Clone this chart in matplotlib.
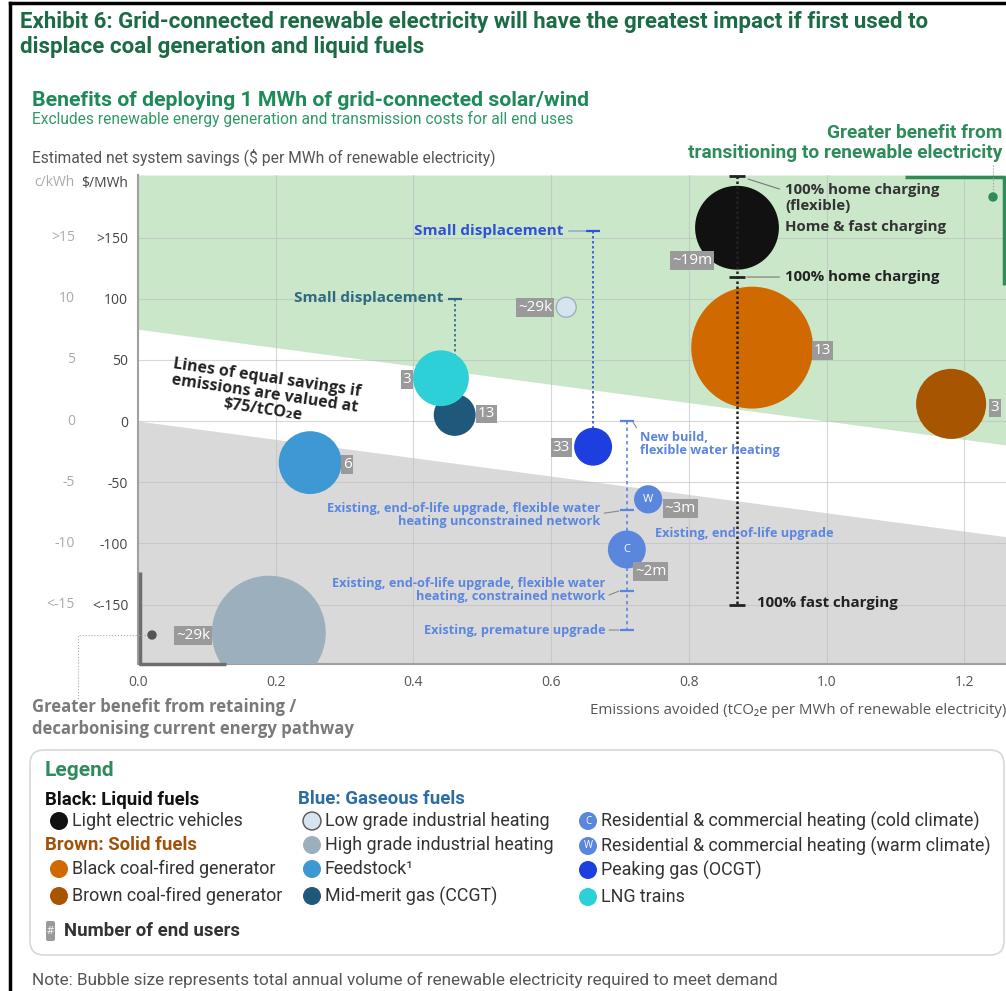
import matplotlib
matplotlib.use("Agg")
import matplotlib.pyplot as plt
from matplotlib.patches import Circle, FancyBboxPatch
import numpy as np

# ---- data ----
end_uses = ["Light electric vehicles", "Black coal-fired generator", "Brown coal-fired generator",
            "Low grade industrial heating", "High grade industrial heating", "Feedstock",
            "Mid-merit gas (CCGT)", "LNG trains", "Peaking gas (OCGT)",
            "Residential & commercial heating (warm climate)",
            "Residential & commercial heating (cold climate)"]
emissions = [0.870, 0.892, 1.181, 0.622, 0.190, 0.250, 0.460, 0.440, 0.661, 0.741, 0.710]  # tCO2e/MWh
savings = [158, 60, 14, 93, -173, -34, 5, 35, -21, -64, -105]                             # $/MWh
volume = [176, 372, 123, 10, 325, 99, 44, 78, 36, 20, 36]                                 # relative volume
end_users = ["~19m", "13", "3", "~29k", "~29k", "6", "13", "3", "33", "~3m", "~2m"]
letters = ["", "", "", "", "", "", "", "", "", "W", "C"]

carbon_price = 75  # $/tCO2e
upper_band = 75    # $/MWh at zero emissions

ev_x = 0.87
ev_range = [200, 118, -150]
ev_range_labels = ["100% home charging\n(flexible)", "100% home charging", "100% fast charging"]
ccgt_range = [100, 5]
ocgt_range = [155, -21]
hp_x = 0.71
hp_range = [0, -73, -139, -171]

yticks = [-150, -100, -50, 0, 50, 100, 150]
ytick_mwh = ["<-150", "-100", "-50", "0", "50", "100", ">150"]
ytick_kwh = ["<-15", "-10", "-5", "0", "5", "10", ">15"]
xticks = [0.0, 0.2, 0.4, 0.6, 0.8, 1.0, 1.2]

# ---- styles ----
colors = ["#111111", "#D06A00", "#A85500", "#D6E4F0", "#9BAFBD", "#3E98D3",
          "#1F587A", "#2DD0D6", "#1E3FE0", "#5A86DE", "#5A86DE"]
edges = ["none", "none", "none", "#9FB0BC", "none", "none", "none", "none", "none", "none", "none"]
label_off = [(-45, 33), (70, 3), (44, 4), (-31, 0), (-76, 3), (37, 2), (32, -1),
             (-34, 1), (-32, 1), (32, 9), (24, 22)]

COND = ["Roboto", "DejaVu Sans"]
SANS = ["Open Sans", "DejaVu Sans"]

W, H = 1006, 991
fig = plt.figure(figsize=(W / 100, H / 100), dpi=100)
fig.patch.set_facecolor("white")

# main axes, pixel box 138..1006 x 175..664
ax = fig.add_axes([138 / W, 1 - 664 / H, (W - 138) / W, (664 - 175) / H])
xmax = 868 / 688.5
ax.set_xlim(0, xmax)
ax.set_ylim(-198.6, 201.1)

xs = np.array([0, xmax])
ax.fill_between(xs, upper_band - carbon_price * xs, 201.1, color="#CAE7CA", lw=0, zorder=0)
ax.fill_between(xs, -198.6, -carbon_price * xs, color="#D9D9D9", lw=0, zorder=0)

for v in xticks[1:]:
    ax.axvline(v, color="#BDBDBD", lw=0.8, alpha=0.6, zorder=0.5)
for v in yticks:
    ax.axhline(v, color="#BDBDBD", lw=0.8, alpha=0.6, zorder=0.5)

for s in ["top", "right"]:
    ax.spines[s].set_visible(False)
for s in ["left", "bottom"]:
    ax.spines[s].set_color("#A0A0A0")
    ax.spines[s].set_linewidth(1.5)

ax.set_yticks(yticks)
ax.set_yticklabels(ytick_mwh, color="#444444", fontsize=10, family=SANS)
ax.set_xticks(xticks)
ax.set_xticklabels(["%.1f" % v for v in xticks], color="#555555", fontsize=10, family=SANS)
ax.tick_params(length=0)
ax.tick_params(axis="y", pad=7)
ax.tick_params(axis="x", pad=8)
for v, lab in zip(yticks, ytick_kwh):
    ax.text(-0.0726, v, lab, transform=ax.get_yaxis_transform(), ha="right", va="center",
            color="#AAAAAA", fontsize=10, family=SANS)

# bubbles
sizes = [v * 20.7 for v in volume]
ax.scatter(emissions, savings, s=sizes, c=colors, edgecolors=edges, linewidths=1, zorder=3)
for x, y, lab, (dx, dy) in zip(emissions, savings, end_users, label_off):
    ax.annotate(lab, (x, y), xytext=(dx * 0.72, -dy * 0.72), textcoords="offset points",
                ha="center", va="center", color="white", fontsize=11, family=SANS,
                bbox=dict(boxstyle="square,pad=0.12", fc="#9A9A9A", ec="none"), zorder=6)
for x, y, t in zip(emissions, savings, letters):
    if t:
        ax.text(x, y, t, ha="center", va="center", color="white", fontsize=8, family=SANS, zorder=6)


def d(px, py):
    return ((px - 138) / 688.5, (421 - py) / 1.2234)


BOLD = dict(fontweight="bold", family=SANS)

# EV range
ax.plot([ev_x, ev_x], [ev_range[0], ev_range[-1]], color="#222222", lw=1.8,
        ls=(0, (1, 1)), zorder=4)
ax.plot([ev_x] * 3, ev_range, ls="none", marker="_", ms=12, mew=2, color="#222222", zorder=4)
ax.annotate(ev_range_labels[0], xy=d(748, 179), xytext=d(785, 198), ha="left", va="center",
            fontsize=10.8, color="#333333", linespacing=1.1,
            arrowprops=dict(arrowstyle="-", color="#777777", lw=0.8, relpos=(0, 0.75),
                            shrinkA=2, shrinkB=0), zorder=6, **BOLD)
ax.text(*d(785, 227), "Home & fast charging", ha="left", va="center", fontsize=10.8,
        color="#333333", zorder=6, **BOLD)
ax.annotate(ev_range_labels[1], xy=d(747, 277), xytext=d(785, 277), ha="left", va="center",
            fontsize=10.8, color="#222222",
            arrowprops=dict(arrowstyle="-", color="#777777", lw=0.8, shrinkA=2, shrinkB=0),
            zorder=6, **BOLD)
ax.text(*d(757, 603), ev_range_labels[2], ha="left", va="center", fontsize=10.8,
        color="#222222", zorder=6, **BOLD)

# CCGT small displacement
x_c = emissions[6]
ax.plot([x_c, x_c], ccgt_range, color="#2D6A7F", lw=1.2, ls=(0, (1.5, 1.5)), zorder=2)
ax.plot([x_c], [ccgt_range[0]], marker="_", ms=10, mew=1.6, color="#2D6A7F", zorder=4)
ax.text(*d(443, 298), "Small displacement", ha="right", va="center", fontsize=11,
        color="#2D6A7F", zorder=6, **BOLD)

# OCGT small displacement
x_o = emissions[8]
ax.plot([x_o, x_o], ocgt_range, color="#3050D8", lw=1.2, ls=(0, (1.5, 1.5)), zorder=2)
ax.plot([x_o], [ocgt_range[0]], marker="_", ms=10, mew=1.6, color="#3050D8", zorder=4)
ax.annotate("Small displacement", xy=d(586, 231), xytext=d(563, 231), ha="right", va="center",
            fontsize=11, color="#3050D8",
            arrowprops=dict(arrowstyle="-", color="#7F8FD8", lw=0.8, relpos=(1, 0.5),
                            shrinkA=2, shrinkB=0), zorder=6, **BOLD)

# heat pump range
HP = "#5B86E0"
ax.plot([hp_x, hp_x], [hp_range[0], hp_range[-1]], color=HP, lw=1.2, ls=(0, (2, 2)), zorder=4)
ax.plot([hp_x] * 4, hp_range, ls="none", marker="_", ms=10, mew=1.6, color=HP, zorder=4)
hp_kw = dict(fontsize=9.2, color=HP, linespacing=1.05, zorder=6, **BOLD)
ax.annotate("New build,\nflexible water heating", xy=d(633, 422), xytext=d(640, 444),
            ha="left", va="center",
            arrowprops=dict(arrowstyle="-", color="#888888", lw=0.8, relpos=(0, 0.9),
                            shrinkA=1, shrinkB=0), **hp_kw)
ax.annotate("Existing, end-of-life upgrade, flexible water\nheating unconstrained network",
            xy=d(619, 511), xytext=d(600, 515), ha="right", va="center",
            arrowprops=dict(arrowstyle="-", color="#888888", lw=0.8, relpos=(1, 0.55),
                            shrinkA=1, shrinkB=0), **hp_kw)
ax.text(*d(655, 533), "Existing, end-of-life upgrade", ha="left", va="center", **hp_kw)
ax.annotate("Existing, end-of-life upgrade, flexible water\nheating, constrained network",
            xy=d(619, 591), xytext=d(605, 590), ha="right", va="center",
            arrowprops=dict(arrowstyle="-", color="#888888", lw=0.8, relpos=(1, 0.25),
                            shrinkA=1, shrinkB=0), **hp_kw)
ax.annotate("Existing, premature upgrade", xy=d(619, 630), xytext=d(605, 630),
            ha="right", va="center",
            arrowprops=dict(arrowstyle="-", color="#888888", lw=0.8, relpos=(1, 0.5),
                            shrinkA=1, shrinkB=0), **hp_kw)

# iso-savings note
ax.text(*d(265, 394), "Lines of equal savings if\nemissions are valued at\n\\$75/tCO\u2082e",
        ha="center", va="center", rotation=-8.5, rotation_mode="anchor", fontsize=11.5,
        color="#222222", linespacing=1.0, zorder=6, **BOLD)

# ---- overlay in pixel coordinates ----
ov = fig.add_axes([0, 0, 1, 1], zorder=5)
ov.set_xlim(0, W)
ov.set_ylim(H, 0)
ov.axis("off")

# outer frame
ov.plot([10, W], [3, 3], color="black", lw=2.5)
ov.plot([10, 10], [3, H], color="black", lw=2.5)

ov.text(20, 22, "Exhibit 6: Grid-connected renewable electricity will have the greatest impact if first used to",
        fontsize=16, fontweight="bold", family=COND, color="#1B6B45", va="center")
ov.text(20, 47, "displace coal generation and liquid fuels", fontsize=16, fontweight="bold",
        family=COND, color="#1B6B45", va="center")
ov.text(32, 101, "Benefits of deploying 1 MWh of grid-connected solar/wind", fontsize=15.3,
        fontweight="bold", family=COND, color="#1E8A58", va="center")
ov.text(32, 119, "Excludes renewable energy generation and transmission costs for all end uses",
        fontsize=11.2, family=COND, color="#2E9A66", va="center")
ov.text(1002, 133, "Greater benefit from", fontsize=13.8, fontweight="bold", family=COND,
        color="#2E8B5A", va="center", ha="right")
ov.text(1002, 153, "transitioning to renewable electricity", fontsize=13.8, fontweight="bold",
        family=COND, color="#2E8B5A", va="center", ha="right")
ov.text(32, 157, "Estimated net system savings (\\$ per MWh of renewable electricity)", fontsize=11.25,
        family=COND, color="#555555", va="center")
ov.text(75, 183, "c/kWh", fontsize=10, family=SANS, color="#AAAAAA", va="center", ha="right")
ov.text(128, 183, "\\$/MWh", fontsize=10, family=SANS, color="#444444", va="center", ha="right")

# green bracket + marker
ov.plot([905, 1004, 1004], [177, 177, 285], color="#2E8B5A", lw=2.5, solid_capstyle="butt")
ov.plot([993, 993], [165, 197], color="#999999", lw=0.8, ls=":")
ov.add_patch(Circle((993, 197), 4, color="#2E8B5A", zorder=6))

# grey bracket + marker
ov.plot([140, 140, 226], [572, 664, 664], color="#6E6E6E", lw=2.5, solid_capstyle="butt")
ov.plot([148, 78, 78], [635, 635, 700], color="#AAAAAA", lw=0.8, ls=":")
ov.add_patch(Circle((152, 635), 4, color="#555555", zorder=6))

ov.text(32, 707, "Greater benefit from retaining /", fontsize=12, fontweight="bold",
        family=SANS, color="#7A7A7A", va="center")
ov.text(32, 729, "decarbonising current energy pathway", fontsize=12, fontweight="bold",
        family=SANS, color="#7A7A7A", va="center")
ov.text(1006, 710, "Emissions avoided (tCO\u2082e per MWh of renewable electricity)", fontsize=10.8,
        family=SANS, color="#555555", va="center", ha="right")

# legend box
ov.add_patch(FancyBboxPatch((40, 760), 954, 185, boxstyle="round,pad=10,rounding_size=14",
                            fc="white", ec="#D8D8D8", lw=1.2))
ov.text(45, 770, "Legend", fontsize=15, fontweight="bold", family=COND, color="#2E8B5A", va="center")
ov.text(45, 800, "Black: Liquid fuels", fontsize=13.4, fontweight="bold", family=COND,
        color="#111111", va="center")
ov.text(45, 845, "Brown: Solid fuels", fontsize=13.4, fontweight="bold", family=COND,
        color="#A0520A", va="center")
ov.text(298, 799, "Blue: Gaseous fuels", fontsize=13.4, fontweight="bold", family=COND,
        color="#2E6DA4", va="center")

leg_pos = [(59, 821), (59, 869), (59, 896), (312, 821), (312, 845), (312, 869),
           (312, 896), (588, 897), (588, 870), (588, 846), (588, 821)]
leg_names = list(end_uses)
leg_names[5] = "Feedstock\u00b9"
for (mx, my), name, c, e, t in zip(leg_pos, leg_names, colors, edges, letters):
    ov.add_patch(Circle((mx, my), 9, fc=c, ec=("#555555" if e != "none" else "none"), lw=1))
    if t:
        ov.text(mx, my, t, ha="center", va="center", color="white", fontsize=7, family=SANS)
    ov.text(mx + 13, my, name, fontsize=12.9, family=COND, color="#333333", va="center")

ov.add_patch(FancyBboxPatch((46, 921), 9, 20, boxstyle="round,pad=0,rounding_size=2",
                            fc="#9A9A9A", ec="none"))
ov.text(50.5, 931, "#", ha="center", va="center", color="white", fontsize=8, family=SANS)
ov.text(64, 931, "Number of end users", fontsize=13.4, fontweight="bold", family=COND,
        color="#333333", va="center")

ov.text(32, 980, "Note: Bubble size represents total annual volume of renewable electricity required to meet demand",
        fontsize=12.3, family=COND, color="#555555", va="center")

fig.savefig("out.png", dpi=100)
